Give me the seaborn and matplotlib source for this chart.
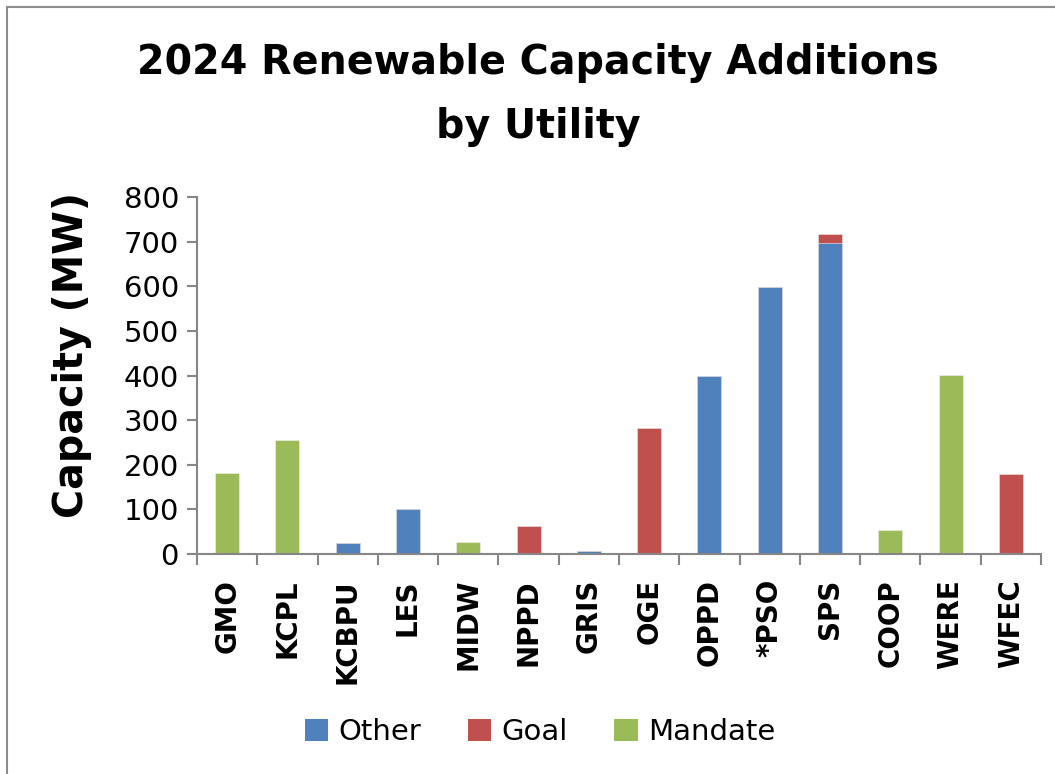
import matplotlib
matplotlib.use("Agg")
import matplotlib.pyplot as plt
from matplotlib.patches import Patch
from matplotlib.lines import Line2D
import seaborn as sns
import pandas as pd
import numpy as np

utilities = ["GMO", "KCPL", "KCBPU", "LES", "MIDW", "NPPD", "GRIS", "OGE",
             "OPPD", "*PSO", "SPS", "COOP", "WERE", "WFEC"]
other =   [0,   0,   25, 100, 0,  0,  6, 0,   400, 598, 697, 0,  0,   0]
goal =    [0,   0,   0,  0,   0,  63, 0, 282, 0,   0,   21,  0,  0,   179]
mandate = [181, 256, 0,  0,   27, 0,  0, 0,   0,   0,   0,   53, 401, 0]

series_names = ["Other", "Goal", "Mandate"]
colors = {"Other": "#4F81BD", "Goal": "#C0504D", "Mandate": "#9BBB59"}

df = pd.DataFrame({"Utility": utilities, "Other": other, "Goal": goal, "Mandate": mandate})
df["top_goal"] = df["Other"] + df["Goal"]
df["top_mandate"] = df["top_goal"] + df["Mandate"]

sns.set_style("white")
plt.rcParams["font.family"] = ["DejaVu Sans"]
plt.rcParams["text.color"] = "black"
plt.rcParams["xtick.color"] = "black"
plt.rcParams["ytick.color"] = "black"

fig = plt.figure(figsize=(10.55, 7.74), dpi=100)
ax = fig.add_axes([197 / 1055, 1 - 554 / 774, (1041 - 197) / 1055, (554 - 197) / 774])

# stacked bars drawn back-to-front (cumulative heights)
for col, name in [("top_mandate", "Mandate"), ("top_goal", "Goal"), ("Other", "Other")]:
    sns.barplot(data=df, x="Utility", y=col, color=colors[name], width=0.4,
                edgecolor="#F2F2F2", linewidth=0.4, saturation=1, ax=ax,
                order=utilities)

ax.set_ylim(0, 800)
ax.set_yticks(np.arange(0, 801, 100))
ax.set_xlim(-0.5, len(utilities) - 0.5)
ax.set_xlabel("")
ax.set_ylabel("")

for s in ["top", "right"]:
    ax.spines[s].set_visible(False)
for s in ["left", "bottom"]:
    ax.spines[s].set_color("#868686")
    ax.spines[s].set_linewidth(1.5)

ax.tick_params(axis="y", which="major", direction="out", length=7, width=1.5,
               color="#868686", labelcolor="black", labelsize=21, pad=6, left=True)
ax.set_yticklabels([str(v) for v in range(0, 801, 100)], fontsize=21, color="black")

# x ticks between categories, labels at centers
ax.set_xticks(np.arange(len(utilities)))
ax.set_xticklabels(utilities, rotation=90, fontsize=20, fontweight="bold",
                   va="top", ha="center", color="black")
ax.tick_params(axis="x", which="major", length=0, pad=18)
ax.set_xticks(np.arange(-0.5, len(utilities)), minor=True)
ax.tick_params(axis="x", which="minor", direction="out", length=8, width=1.5,
               color="#868686", bottom=True)

fig.text(0.51, 1 - 95 / 774, "2024 Renewable Capacity Additions\nby Utility",
         ha="center", va="center", fontsize=28.5, fontweight="bold", linespacing=1.8,
         color="black")
fig.text(72 / 1055, 1 - 355 / 774, "Capacity (MW)", rotation=90, ha="center",
         va="center", fontsize=28.5, fontweight="bold", color="black")

handles = [Patch(facecolor=colors[n], edgecolor="none") for n in series_names]
leg = fig.legend(handles, series_names, loc="center", bbox_to_anchor=(540 / 1055, 1 - 732 / 774),
                 ncol=3, frameon=False, fontsize=21, handlelength=0.8, handleheight=0.8,
                 handletextpad=0.35, columnspacing=1.6)
for t in leg.get_texts():
    t.set_color("black")

# chart-area border (left and top edges visible)
fig.add_artist(Line2D([7 / 1055, 7 / 1055], [0, 1 - 7 / 774], transform=fig.transFigure,
                      color="#8C8C8C", linewidth=1.5))
fig.add_artist(Line2D([7 / 1055, 1], [1 - 7 / 774, 1 - 7 / 774], transform=fig.transFigure,
                      color="#8C8C8C", linewidth=1.5))

fig.savefig("out.png", dpi=100, facecolor="white")
